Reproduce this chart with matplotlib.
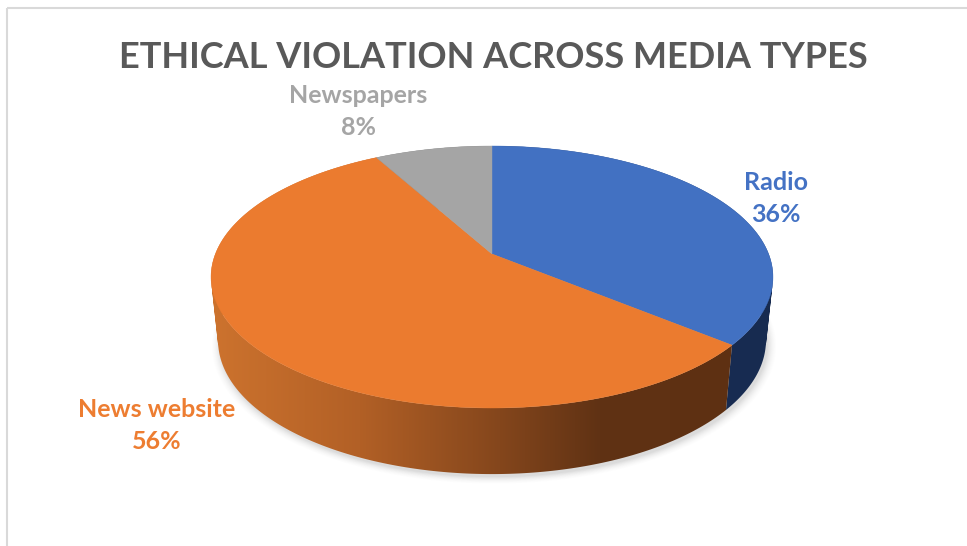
import numpy as np
import matplotlib
matplotlib.use("Agg")
import matplotlib.pyplot as plt
from matplotlib.patches import Polygon, PathPatch
from matplotlib.path import Path

# Chart content
chart_title = "ETHICAL VIOLATION ACROSS MEDIA TYPES"
categories = ["Radio", "News website", "Newspapers"]
shares = [36, 56, 8]

top_colors = ["#4271C2", "#EB7B2F", "#A5A5A5"]
text_colors = ["#4472C4", "#ED7D31", "#A5A5A5"]
label_centers = [(776, 198.5), (157, 425.5), (358, 111.5)]

W, H = 967, 546
fig = plt.figure(figsize=(W / 100, H / 100), dpi=100, facecolor="white")
ax = fig.add_axes([0, 0, 1, 1])
ax.set_xlim(0, W)
ax.set_ylim(H, 0)
ax.axis("off")
plt.rcParams["font.family"] = ["Lato", "DejaVu Sans"]

# Perspective projection of the unit disc onto the canvas
CX, CY = 492.0, 254.0
PERSP = 0.1756
SCALE_X, SCALE_Y = 276.6, 126.96
DROP = 63.0


def rim(theta, lower=False):
    """Rim point for an angle measured clockwise from twelve o'clock."""
    ux, uy = np.sin(theta), np.cos(theta)
    d = 1 + PERSP * uy
    x = SCALE_X * ux / d
    y = SCALE_Y * uy / d
    if lower:
        return CX + 0.975 * x, CY - 1.02 * y + DROP
    return CX + x, CY - y


def wall_path(theta):
    """Compound outline of the wall; every quad is wound the same way so they all fill."""
    tx, ty = rim(theta)
    bx, by = rim(theta, lower=True)
    quads = []
    for i in range(len(theta) - 1):
        q = np.array([(tx[i], ty[i]), (tx[i + 1], ty[i + 1]),
                      (bx[i + 1], by[i + 1]), (bx[i], by[i]), (tx[i], ty[i])])
        area = np.sum(q[:-1, 0] * q[1:, 1] - q[1:, 0] * q[:-1, 1])
        if area < 0:
            q = q[::-1]
        quads.append(Path(q, closed=True))
    return Path.make_compound_path(*quads)


# Side-wall shading, left to right across the canvas
side_ramps = [
    [(210, (30, 52, 96)), (720, (24, 44, 82)), (780, (23, 43, 80))],
    [(210, (205, 115, 46)), (360, (178, 96, 38)), (500, (132, 70, 28)),
     (600, (96, 50, 20)), (740, (94, 48, 18))],
    [(210, (120, 120, 120)), (780, (80, 80, 80))],
]

# Soft drop shadow around the lower rim
full = np.linspace(0, 2 * np.pi, 240)
sx, sy = rim(full, lower=True)
for grow, alpha in zip(np.linspace(1.03, 1.0, 10), np.linspace(0.006, 0.022, 10)):
    ax.add_patch(Polygon(
        np.column_stack([CX + 2 + (sx - CX) * grow, CY + 3 + (sy - CY) * grow]),
        closed=True, fc="black", ec="none", alpha=alpha, zorder=1))

edges = np.radians(np.concatenate([[0], np.cumsum(shares)]) * 3.6)

# Side wall of each slice: a horizontal gradient clipped to the wall outline
columns = np.arange(200, 791)
for k in (2, 0, 1):
    a0, a1, ramp = edges[k], edges[k + 1], side_ramps[k]
    wall = PathPatch(wall_path(np.linspace(a0, a1, 240)), fc="none", ec="none")
    ax.add_patch(wall)
    xs = [s[0] for s in ramp]
    strip = np.stack([np.interp(columns, xs, [s[1][i] for s in ramp]) / 255
                      for i in range(3)], axis=-1)[np.newaxis, :, :]
    img = ax.imshow(strip, extent=(200, 790, 500, 130), aspect="auto",
                    interpolation="bilinear", zorder=2 + 0.1 * (k == 1))
    img.set_clip_path(wall)
ax.set_xlim(0, W)
ax.set_ylim(H, 0)

# Top faces
for a0, a1, c in zip(edges[:-1], edges[1:], top_colors):
    t = np.linspace(a0, a1, 200)
    x, y = rim(t)
    pts = np.column_stack([np.r_[CX, x], np.r_[CY, y]])
    ax.add_patch(Polygon(pts, closed=True, fc=c, ec=c, lw=0.3, zorder=3))

# Category and percentage labels
for name, value, (lx, ly), c in zip(categories, shares, label_centers, text_colors):
    ax.text(lx, ly, f"{name}\n{value}%", color=c, fontsize=18, fontweight="bold",
            ha="center", va="center", linespacing=1.5, zorder=5)

ax.text(493, 58, chart_title, color="#595959", fontsize=26, fontweight="bold",
        ha="center", va="center", zorder=5)

# Chart frame: only the top and left edges fall inside the canvas
ax.plot([7, 7], [H, 8], color="#D9D9D9", lw=1.5, solid_capstyle="butt", zorder=6)
ax.plot([7, W], [8, 8], color="#D9D9D9", lw=1.5, solid_capstyle="butt", zorder=6)

fig.savefig("out.png", dpi=100, facecolor="white")
